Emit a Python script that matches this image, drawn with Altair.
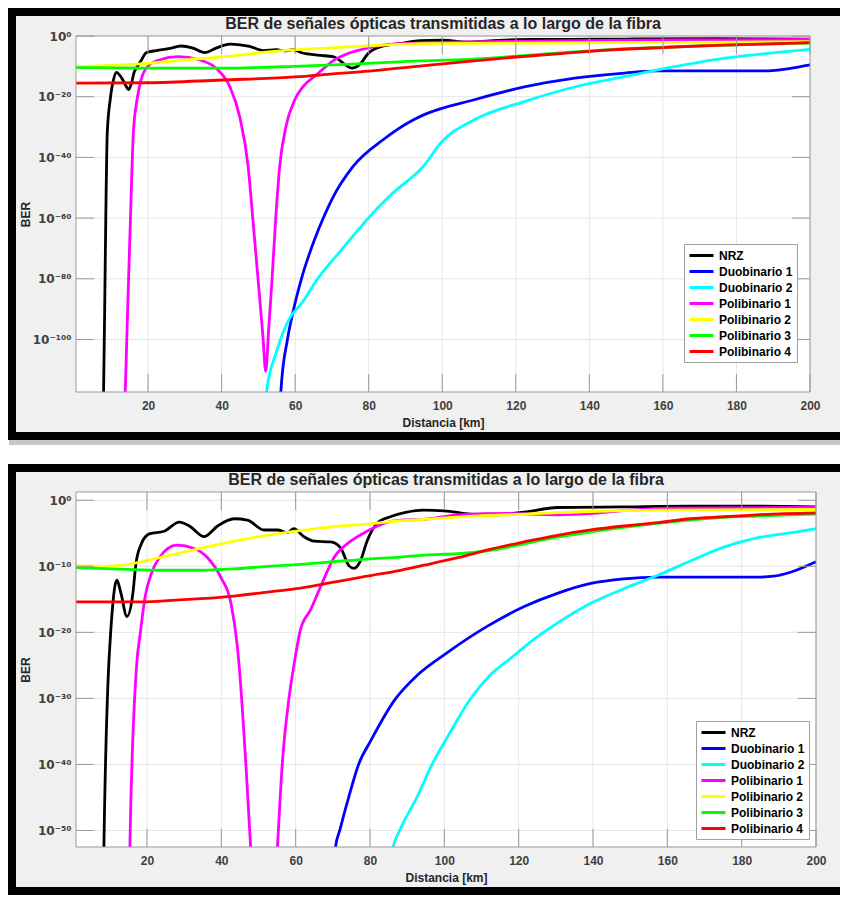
import math
import altair as alt
import pandas as pd

FONT = "Liberation Sans"
SUP_FONT = "DejaVu Sans"
SERIES = ["NRZ", "Duobinario 1", "Duobinario 2", "Polibinario 1",
          "Polibinario 2", "Polibinario 3", "Polibinario 4"]
COLORS = ["#000000", "#0000ff", "#00ffff", "#ff00ff", "#ffff00", "#00ff00", "#ff0000"]

TITLE = "BER de señales ópticas transmitidas a lo largo de la fibra"
X_TITLE = "Distancia [km]"
Y_TITLE = "BER"
X_TICKS = [20, 40, 60, 80, 100, 120, 140, 160, 180, 200]
TOP_Y_TICKS = [1e-100, 1e-80, 1e-60, 1e-40, 1e-20, 1.0]
BOT_Y_TICKS = [1e-50, 1e-40, 1e-30, 1e-20, 1e-10, 1.0]
TOP_X_DOMAIN = [0.4, 200]
BOT_X_DOMAIN = [0.9, 200]
TOP_Y_DOMAIN_EXP = [-117.3, 0.0]
BOT_Y_DOMAIN_EXP = [-52.5, 1.25]

# ---------------- top panel (km, log10 BER) ----------------
top_nrz_km = [7.7, 7.9, 8.2, 8.5, 8.9, 9.7, 10.6, 11.4, 12.2, 13.1, 14.0, 14.7, 15.5, 16.2, 17.2,
              18.1, 19.5, 22.2, 25.5, 29.0, 32.0, 35.4, 38.5, 42.2, 45.0, 47.6, 51.3, 55.0, 57.0,
              59.4, 62.0, 64.0, 67.0, 70.3, 72.2, 74.0, 75.4, 77.6, 79.9, 84.0, 88.6, 94.0, 100.0,
              106.8, 113.0, 120.0, 135.0, 150.0, 175.0, 200.0]
top_nrz_exp = [-130, -117, -90, -60, -32, -21, -14.4, -12.0, -12.8, -14.4, -16.5, -17.7, -15.5, -12.0,
               -9.8, -8.1, -5.5, -4.8, -4.2, -3.3, -3.9, -5.5, -4.0, -2.7, -2.9, -3.4, -4.8, -4.5,
               -4.9, -4.5, -5.6, -6.0, -6.4, -6.8, -8.1, -9.8, -10.6, -9.3, -5.7, -3.3, -2.5, -1.5,
               -1.4, -2.0, -1.6, -1.2, -1.1, -1.0, -0.9, -1.0]
top_duo1_km = [55.8, 56.1, 57.9, 59.4, 61.7, 65.3, 67.5, 70.0, 75.8, 84.0, 92.2, 95.1, 108.7, 122.3,
               136.0, 149.6, 158.7, 172.0, 186.0, 190.5, 195.0, 200.0]
top_duo1_exp = [-130, -117.3, -100, -91, -80, -67, -60.4, -53.8, -42.9, -34.1, -27.6, -25.9, -21,
                -16.8, -13.9, -12.2, -11.5, -11.5, -11.5, -11.3, -10.6, -9.5]
top_duo2_km = [51.9, 52.2, 54.9, 58.4, 62.0, 66.1, 72.0, 76.5, 79.6, 86.7, 94.9, 99.6, 108.7, 122.3,
               136.0, 149.6, 163.2, 176.8, 190.5, 200.0]
top_duo2_exp = [-130, -117.3, -104.1, -93.2, -87.7, -80, -71.3, -64.8, -60.4, -51.6, -42.9, -35.2,
                -27.6, -21.6, -16.8, -13.4, -10.1, -7.3, -5.5, -4.4]
top_pol1_km = [13.5, 13.8, 14.5, 15.2, 16.0, 17.0, 18.1, 19.9, 23.1, 28.1, 34.0, 38.5, 42.2, 44.9,
               47.2, 48.5, 49.9, 51.2, 52.0, 52.8, 53.6, 54.7, 55.8, 57.5, 59.9, 62.2, 65.8, 70.4,
               74.9, 79.5, 84.0, 88.6, 94.0, 110.0, 130.0, 160.0, 200.0]
top_pol1_exp = [-130, -117, -88, -60.4, -31.9, -21, -14.4, -10, -7.9, -6.8, -7.9, -10.6, -16.6, -26.5,
                -42.9, -60.4, -80, -98.5, -110.5, -96.5, -82.3, -60.4, -42.9, -29.8, -21, -16.6,
                -12.8, -8.1, -5.5, -4.0, -3.0, -2.5, -2.3, -1.9, -1.6, -1.3, -1.1]
top_pol2_km = [0.4, 10.0, 20.0, 30.0, 42.4, 50.0, 59.4, 70.0, 79.6, 94.0, 110.0, 130.0, 160.0, 200.0]
top_pol2_exp = [-10.1, -9.7, -9.0, -7.9, -6.6, -5.6, -4.6, -3.9, -3.3, -2.5, -2.4, -2.3, -2.1, -1.9]
top_pol3_km = [0.4, 20.0, 40.0, 60.0, 80.0, 94.0, 105.0, 115.0, 125.0, 140.0, 160.0, 180.0, 200.0]
top_pol3_exp = [-10.4, -10.6, -10.6, -10.0, -9.0, -8.2, -7.8, -7.1, -6.2, -4.9, -3.7, -2.9, -2.3]
top_pol4_km = [0.4, 20.0, 40.0, 60.0, 70.3, 80.0, 94.0, 105.0, 119.4, 133.0, 146.0, 160.0, 172.0,
               186.0, 200.0]
top_pol4_exp = [-15.5, -15.4, -14.5, -13.5, -12.5, -11.6, -9.9, -8.6, -7.0, -5.7, -4.6, -3.8, -3.2,
                -2.7, -2.2]

# ---------------- bottom panel (km, log10 BER) ----------------
bot_nrz_km = [8.2, 8.4, 9.7, 10.0, 10.6, 11.2, 11.9, 13.0, 14.6, 16.2, 17.0, 18.4, 20.6, 24.6, 28.7,
              31.4, 35.4, 39.0, 43.4, 47.0, 51.5, 55.1, 57.8, 59.5, 62.2, 65.0, 69.4, 72.1, 74.3,
              75.7, 77.4, 79.2, 81.9, 85.5, 89.9, 94.4, 100.0, 107.1, 114.0, 121.5, 130.4, 148.3,
              166.2, 184.1, 200.0]
bot_nrz_exp = [-60, -52.6, -25.1, -22.1, -17.1, -13.6, -12.1, -14.1, -17.6, -14.1, -9.7, -6.7, -5.1,
               -4.7, -3.3, -3.9, -5.5, -3.9, -2.8, -3.0, -4.5, -4.5, -4.9, -4.3, -5.5, -6.2, -6.3,
               -7.2, -9.9, -10.3, -9.2, -6.2, -3.5, -2.5, -1.8, -1.5, -1.6, -2.1, -2.2, -1.8, -1.1,
               -1.0, -0.9, -0.9, -1.0]
bot_duo1_km = [70.4, 70.7, 71.9, 74.3, 77.0, 80.1, 86.8, 92.7, 100.7, 111.5, 121.5, 130.4, 139.4,
               148.3, 157.3, 170.0, 184.1, 188.6, 193.1, 200.0]
bot_duo1_exp = [-56, -52.6, -49.9, -44.9, -39.9, -36.5, -30.1, -26.5, -23.1, -19.1, -16.1, -14.1,
                -12.6, -11.9, -11.65, -11.65, -11.65, -11.5, -10.9, -9.3]
bot_duo2_km = [85.8, 86.2, 88.0, 92.7, 96.7, 101.2, 107.0, 112.3, 117.7, 124.0, 130.4, 139.4, 148.3,
               157.3, 166.2, 175.2, 184.1, 193.1, 200.0]
bot_duo2_exp = [-56, -52.6, -50, -44.9, -40, -35.5, -30.1, -26.5, -24, -21.1, -18.6, -15.6, -13.4,
                -11.4, -9.2, -7.1, -5.7, -4.95, -4.3]
bot_pol1_km = [15.2, 15.4, 17.2, 18.2, 19.5, 21.1, 23.3, 28.0, 32.7, 36.3, 39.9, 42.6, 44.3, 44.8,
               46.6, 47.9, 48.6, 51.5, 54.4, 55.1, 56.4, 58.2, 59.5, 61.3, 64.0, 66.7, 70.3, 74.8,
               79.2, 83.7, 88.2, 94.4, 103.6, 117.0, 130.0, 140.0, 150.0, 160.0, 200.0]
bot_pol1_exp = [-60, -52.6, -25.1, -20.1, -14.6, -11.2, -8.7, -6.8, -7.3, -8.7, -11.7, -15.6, -22.1,
                -25.1, -39.9, -52.6, -60, -80, -60, -52.6, -39.9, -30.0, -25.1, -19.6, -16.6, -13.1,
                -8.7, -6.2, -4.7, -3.5, -3.0, -2.9, -2.2, -2.0, -2.2, -2.0, -1.5, -1.2, -1.1]
bot_pol2_km = [0.9, 8.0, 14.0, 19.3, 25.6, 32.7, 43.4, 52.4, 61.3, 70.3, 79.2, 88.2, 94.4, 108.0,
               121.5, 139.4, 157.3, 175.2, 200.0]
bot_pol2_exp = [-9.9, -10.0, -9.8, -9.2, -8.4, -7.5, -6.2, -5.3, -4.6, -4.0, -3.6, -3.1, -2.9, -2.4,
                -2.1, -1.7, -1.5, -1.45, -1.4]
bot_pol3_km = [0.9, 16.6, 25.6, 34.5, 43.4, 52.4, 61.3, 70.3, 79.2, 88.2, 94.4, 103.6, 112.5, 121.5,
               130.4, 139.4, 148.3, 157.3, 166.2, 175.2, 184.1, 200.0]
bot_pol3_exp = [-10.2, -10.5, -10.6, -10.6, -10.4, -10.0, -9.7, -9.3, -8.9, -8.6, -8.3, -8.1, -7.6,
                -6.6, -5.6, -4.8, -4.1, -3.5, -3.0, -2.6, -2.4, -2.1]
bot_pol4_km = [0.9, 16.6, 25.6, 34.5, 43.4, 52.4, 61.3, 70.3, 79.2, 88.2, 94.9, 103.6, 112.5, 121.5,
               130.4, 139.4, 148.3, 157.3, 166.2, 175.2, 184.1, 200.0]
bot_pol4_exp = [-15.4, -15.4, -15.2, -14.9, -14.5, -13.9, -13.3, -12.4, -11.5, -10.6, -9.8, -8.7,
                -7.4, -6.3, -5.3, -4.5, -3.9, -3.4, -2.8, -2.5, -2.2, -1.9]

TOP_SERIES = [(top_nrz_km, top_nrz_exp), (top_duo1_km, top_duo1_exp), (top_duo2_km, top_duo2_exp),
              (top_pol1_km, top_pol1_exp), (top_pol2_km, top_pol2_exp), (top_pol3_km, top_pol3_exp),
              (top_pol4_km, top_pol4_exp)]
BOT_SERIES = [(bot_nrz_km, bot_nrz_exp), (bot_duo1_km, bot_duo1_exp), (bot_duo2_km, bot_duo2_exp),
              (bot_pol1_km, bot_pol1_exp), (bot_pol2_km, bot_pol2_exp), (bot_pol3_km, bot_pol3_exp),
              (bot_pol4_km, bot_pol4_exp)]

# layout (pixels)
L, T, B, BAND = 68, 28, 48, 8
TICK_LEN = 18
GRID_C = "#e6e6e6"
AX_C = "#9a9a9a"

SUP = str.maketrans("0123456789-", "⁰¹²³⁴⁵⁶⁷⁸⁹⁻")


def label_expr(ticks):
    parts = []
    for t in ticks:
        e = int(round(math.log10(t)))
        parts.append(f"round(log(datum.value)/LN10) == {e} ? '10{str(e).translate(SUP)}'")
    return " : ".join(parts) + " : ''"


def build_df(series_list):
    rows = []
    for name, (kms, exps) in zip(SERIES, series_list):
        for k, e in zip(kms, exps):
            rows.append({"serie": name, "km": k, "ber": 10.0 ** e})
    return pd.DataFrame(rows)


def panel(series_list, W, H, R, xdom, ydom_exp, yticks, leg_x, leg_y, shadow):
    one = pd.DataFrame({"k": [0]})
    xs = alt.Scale(domain=xdom, nice=False, zero=False)
    ys = alt.Scale(type="log", domain=[10.0 ** ydom_exp[0], 10.0 ** ydom_exp[1]], nice=False)
    xt = pd.DataFrame({"v": X_TICKS})
    yt = pd.DataFrame({"v": yticks})

    xaxis = alt.Axis(values=X_TICKS, format="d", grid=False, ticks=False, domain=False,
                     labelFont=FONT, labelFontSize=12, labelFontWeight="bold", labelColor="#404040",
                     labelPadding=8, labelFlush=False, title=X_TITLE, titleFont=FONT,
                     titleFontSize=12, titleFontWeight="bold", titleColor="#262626",
                     titlePadding=6, zindex=1)
    yaxis = alt.Axis(values=yticks, labelExpr=label_expr(yticks), grid=False, ticks=False,
                     domain=False, labelFont=SUP_FONT, labelFontSize=12, labelFontWeight="bold",
                     labelColor="#404040", labelPadding=5, labelFlush=False, title=Y_TITLE,
                     titleFont=FONT, titleFontSize=12, titleFontWeight="bold", titleColor="#262626",
                     titleX=-44, titleY=H / 2, zindex=1)
    X = lambda f: alt.X(f, scale=xs, axis=xaxis, title=X_TITLE)
    Y = lambda f: alt.Y(f, scale=ys, axis=yaxis, title=Y_TITLE)

    layers = []
    if shadow:
        layers.append(alt.Chart(one).mark_rect(color="#8f8f8f", opacity=0.5).encode(
            x=alt.value(-L + 1), x2=alt.value(W + R), y=alt.value(-T + 5), y2=alt.value(H + B + 5)))
    layers.append(alt.Chart(one).mark_rect(color="#000000").encode(
        x=alt.value(-L), x2=alt.value(W + R), y=alt.value(-T), y2=alt.value(H + B)))
    layers.append(alt.Chart(one).mark_rect(color="#f0f0f0").encode(
        x=alt.value(-L + BAND), x2=alt.value(W + R), y=alt.value(-T + BAND), y2=alt.value(H + B - BAND)))
    layers.append(alt.Chart(one).mark_rect(color="#ffffff").encode(
        x=alt.value(0), x2=alt.value(W), y=alt.value(0), y2=alt.value(H)))
    layers.append(alt.Chart(pd.DataFrame({"t": [TITLE]})).mark_text(
        font=FONT, fontSize=16, fontWeight="bold", color="#262626", align="center",
        baseline="alphabetic").encode(text="t:N", x=alt.value(W / 2), y=alt.value(-7)))
    # grid
    layers.append(alt.Chart(xt).mark_rule(color=GRID_C, strokeWidth=1).encode(
        x=X("v:Q"), y=alt.value(0), y2=alt.value(H)))
    layers.append(alt.Chart(yt).mark_rule(color=GRID_C, strokeWidth=1).encode(
        y=Y("v:Q"), x=alt.value(0), x2=alt.value(W)))
    # data lines
    legend = alt.Legend(orient="none", legendX=leg_x, legendY=leg_y, title=None,
                        fillColor="#ffffff", strokeColor="#a0a0a0", padding=4,
                        symbolType="M-2,0H2", symbolSize=144, symbolStrokeWidth=3,
                        symbolOffset=6, labelOffset=10,
                        labelFont=FONT, labelFontSize=12, labelFontWeight="bold",
                        labelColor="#000000", rowPadding=2)
    layers.append(alt.Chart(build_df(series_list)).mark_line(
        strokeWidth=2.8, clip=True, interpolate="monotone").encode(
        x=X("km:Q"),
        y=Y("ber:Q"),
        color=alt.Color("serie:N", scale=alt.Scale(domain=SERIES, range=COLORS), legend=legend),
        order=alt.Order("km:Q")))
    # inward ticks
    layers.append(alt.Chart(xt).mark_rule(color=AX_C).encode(
        x=X("v:Q"), y=alt.value(H), y2=alt.value(H - TICK_LEN)))
    layers.append(alt.Chart(xt).mark_rule(color=AX_C).encode(
        x=X("v:Q"), y=alt.value(0), y2=alt.value(TICK_LEN)))
    layers.append(alt.Chart(yt).mark_rule(color=AX_C).encode(
        y=Y("v:Q"), x=alt.value(0), x2=alt.value(TICK_LEN)))
    layers.append(alt.Chart(yt).mark_rule(color=AX_C).encode(
        y=Y("v:Q"), x=alt.value(W - TICK_LEN), x2=alt.value(W)))
    # box
    layers.append(alt.Chart(one).mark_rect(fill="#ffffff", fillOpacity=0, stroke=AX_C,
                                           strokeWidth=1).encode(
        x=alt.value(0), x2=alt.value(W), y=alt.value(0), y2=alt.value(H)))
    return alt.layer(*layers).properties(width=W, height=H)


top = panel(TOP_SERIES, 734, 356, 30, TOP_X_DOMAIN, TOP_Y_DOMAIN_EXP, TOP_Y_TICKS, 608, 208, True)
bottom = panel(BOT_SERIES, 740, 355, 24, BOT_X_DOMAIN, BOT_Y_DOMAIN_EXP, BOT_Y_TICKS, 620, 229, False)

chart = alt.vconcat(top, bottom, spacing=19).resolve_scale(
    color="independent", x="independent", y="independent").resolve_legend(
    color="independent").properties(
    padding=0, background="#ffffff").configure_view(strokeWidth=0)

chart.save("out.html", embed_options={"renderer": "svg", "actions": False})
